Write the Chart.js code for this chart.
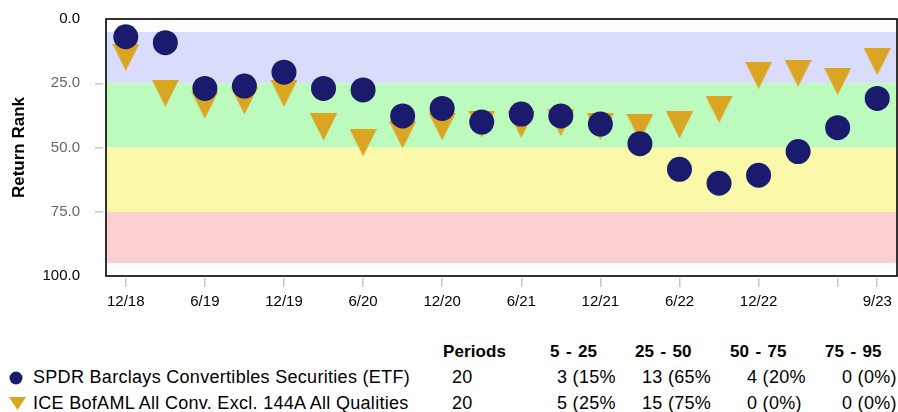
<!DOCTYPE html>
<html><head><meta charset="utf-8">
<script src="https://cdn.jsdelivr.net/npm/chart.js@4/dist/chart.umd.min.js"></script>
<style>
html,body{margin:0;padding:0;background:#fff;}
#wrap{position:relative;width:898px;height:412px;overflow:hidden;font-family:"Liberation Sans",Arial,Helvetica,sans-serif;color:#000;}
#c{position:absolute;left:0;top:0;}
.t{position:absolute;white-space:nowrap;font-size:18px;line-height:18px;letter-spacing:0.3px;}
.h{position:absolute;white-space:nowrap;font-size:17px;line-height:17px;font-weight:bold;letter-spacing:0.1px;word-spacing:1.5px;}
.mk{position:absolute;}
</style></head>
<body><div id="wrap"><canvas id="c" width="898" height="330"></canvas><div id="tbl"></div></div>
<script>
// ---- data ----
const periods = ['12/18','3/19','6/19','9/19','12/19','3/20','6/20','9/20','12/20','3/21','6/21','9/21','12/21','3/22','6/22','9/22','12/22','3/23','6/23','9/23'];
const etfRank = [6.9, 9.2, 27.0, 26.1, 20.7, 27.0, 27.6, 37.7, 34.8, 40.1, 37.0, 37.7, 40.9, 48.5, 58.5, 63.9, 60.8, 51.6, 42.3, 30.9];
const indexRank = [14.9, 28.9, 33.5, 31.9, 28.9, 42.0, 48.1, 45.1, 41.9, 40.9, 41.0, 40.3, 41.9, 42.1, 41.2, 35.1, 21.9, 21.1, 24.3, 16.6];
const xTickPeriods = ['12/18','6/19','12/19','6/20','12/20','6/21','12/21','6/22','12/22','6/23','9/23'];
const xTickLabels = ['12/18','6/19','12/19','6/20','12/20','6/21','12/21','6/22','12/22','','9/23'];
const yTicks = [0, 25, 50, 75, 100];
const bandLower = [5, 25, 50, 75];
const bandUpper = [25, 50, 75, 95];
const bandColors = ['#dadcfc', '#bdfabd', '#f9f9a9', '#fcd0d2'];
const seriesNames = ['SPDR Barclays Convertibles Securities (ETF)', 'ICE BofAML All Conv. Excl. 144A All Qualities'];
const tableHeaders = ['Periods', '5 - 25', '25 - 50', '50 - 75', '75 - 95'];
const etfRow = ['20', '3 (15%', '13 (65%', '4 (20%', '0 (0%)'];
const indexRow = ['20', '5 (25%', '15 (75%', '0 (0%)', '0 (0%)'];

// ---- styles / layout ----
const NAVY = '#1b1b6e', GOLD = '#daa520';
const headerX = [443, 550, 635, 730, 825];
const rowX = [452, 557, 642, 747, 842];

function triImg(w, h, color) {
  const c = document.createElement('canvas'); c.width = w; c.height = h;
  const g = c.getContext('2d'); g.fillStyle = color; g.beginPath();
  g.moveTo(0, 0); g.lineTo(w, 0); g.lineTo(w / 2, h); g.closePath(); g.fill();
  return c;
}

const bandsPlugin = {
  id: 'bands',
  beforeDatasetsDraw(chart) {
    const {ctx, chartArea: a, scales: {y}} = chart;
    ctx.save();
    bandLower.forEach((lo, i) => {
      const y1 = y.getPixelForValue(lo), y2 = y.getPixelForValue(bandUpper[i]);
      ctx.fillStyle = bandColors[i];
      ctx.fillRect(a.left, Math.min(y1, y2), a.right - a.left, Math.abs(y2 - y1));
    });
    ctx.restore();
  },
  afterDraw(chart) {
    const {ctx, chartArea: a} = chart;
    ctx.save(); ctx.strokeStyle = '#000'; ctx.lineWidth = 1.6;
    ctx.strokeRect(a.left, a.top, a.right - a.left, a.bottom - a.top);
    ctx.restore();
  }
};

Chart.defaults.font.family = '"Liberation Sans", Arial, Helvetica, sans-serif';
new Chart(document.getElementById('c'), {
  type: 'scatter',
  data: {
    datasets: [
      {label: seriesNames[0], data: etfRank.map((v, i) => ({x: i, y: v})), pointStyle: 'circle', pointRadius: 12.5, pointHoverRadius: 12.5, backgroundColor: NAVY, borderWidth: 0, order: 0},
      {label: seriesNames[1], data: indexRank.map((v, i) => ({x: i, y: v})), pointStyle: triImg(27, 27, GOLD), pointRadius: 14, backgroundColor: GOLD, borderWidth: 0, order: 1}
    ]
  },
  options: {
    responsive: false, animation: false, events: [],
    layout: {padding: {top: 19, right: 1, bottom: 0, left: 0}, autoPadding: false},
    plugins: {legend: {display: false}, tooltip: {enabled: false}},
    scales: {
      x: {
        type: 'linear', min: -0.5, max: 19.5,
        afterBuildTicks: s => { s.ticks = xTickPeriods.map(p => ({value: periods.indexOf(p)})); },
        ticks: {autoSkip: false, maxRotation: 0, minRotation: 0, color: '#000', font: {size: 15}, padding: 6,
                callback: (v, i) => xTickLabels[i]},
        grid: {drawOnChartArea: false, drawTicks: true, tickLength: 11, color: '#c8c8c8', lineWidth: 1.5, tickBorderDash: [0, 2, 9, 100]},
        border: {display: false},
        afterFit: s => { s.height = 54; s.paddingLeft = 0; s.paddingRight = 0; }
      },
      y: {
        type: 'linear', reverse: true, min: 0, max: 100,
        afterBuildTicks: s => { s.ticks = yTicks.map(v => ({value: v})); },
        ticks: {font: {size: 15}, padding: 15,
                color: c => (c.tick && (c.tick.value === 0 || c.tick.value === 100)) ? '#000' : '#666',
                callback: v => Number(v).toFixed(1)},
        grid: {drawOnChartArea: false, drawTicks: true, tickLength: 11, lineWidth: 1.5, tickBorderDash: [8, 100],
               color: c => (c.tick && c.tick.value > 0 && c.tick.value < 100) ? '#c8c8c8' : 'rgba(0,0,0,0)'},
        border: {display: false},
        title: {display: true, text: 'Return Rank', color: '#000', font: {size: 17, weight: 'bold'}, padding: {top: 9, bottom: 0}},
        afterFit: s => { s.width = 106; s.paddingTop = 0; s.paddingBottom = 0; }
      }
    }
  },
  plugins: [bandsPlugin]
});

// ---- table / legend (HTML text) ----
const tbl = document.getElementById('tbl');
function add(cls, txt, x, y) { const d = document.createElement('div'); d.className = cls; d.textContent = txt; d.style.left = x + 'px'; d.style.top = y + 'px'; tbl.appendChild(d); }
tableHeaders.forEach((h, i) => add('h', h, headerX[i], 342.7));
add('t', seriesNames[0], 33, 368);
add('t', seriesNames[1], 33, 394);
etfRow.forEach((v, i) => add('t', v, rowX[i], 368));
indexRow.forEach((v, i) => add('t', v, rowX[i], 394));
tbl.insertAdjacentHTML('beforeend',
  '<svg class="mk" style="left:9px;top:371px" width="14" height="14"><circle cx="7" cy="7" r="6.5" fill="' + NAVY + '"/></svg>' +
  '<svg class="mk" style="left:9px;top:397px" width="17" height="13"><polygon points="0,0 17,0 8.5,13" fill="' + GOLD + '"/></svg>');
</script>
</body></html>
